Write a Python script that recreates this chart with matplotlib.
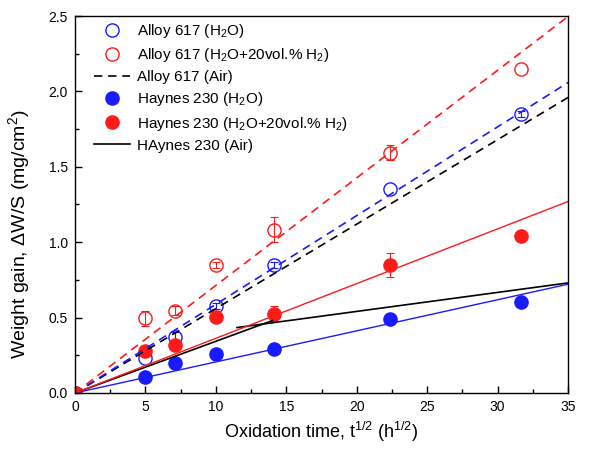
import matplotlib
matplotlib.use('Agg')
import matplotlib.pyplot as plt
from matplotlib.lines import Line2D
import numpy as np

plt.rcParams['font.family'] = ['Liberation Sans', 'DejaVu Sans']
plt.rcParams['mathtext.default'] = 'regular'

# square root of oxidation time (h^1/2): 0, 25, 50, 100, 200, 500, 1000 h
t_sqrt = np.sqrt([0, 25, 50, 100, 200, 500, 1000])

a617_h2o = [0.0, 0.235, 0.374, 0.578, 0.85, 1.35, 1.85]
a617_h2o_err = [0, 0.0, 0.03, 0.02, 0.02, 0.0, 0.02]
a617_h2 = [0.0, 0.497, 0.545, 0.847, 1.084, 1.594, 2.15]
a617_h2_err = [0, 0.05, 0.03, 0.02, 0.08, 0.05, 0.0]
h230_h2o = [0.0, 0.104, 0.197, 0.257, 0.293, 0.49, 0.603]
h230_h2 = [0.0, 0.281, 0.315, 0.503, 0.527, 0.851, 1.04]
h230_h2_err = [0, 0.0, 0.0, 0.0, 0.05, 0.08, 0.0]

# air reference lines
a617_air_x = [0, 35]
a617_air_y = [0, 1.96]
h230_air_x1 = [0, 14.0]
h230_air_y1 = [0, 0.48]
h230_air_x2 = [11.5, 35]
h230_air_y2 = [0.434, 0.73]

BLUE = '#1a1aff'
RED = '#ff1a1a'
DASH = (0, (5, 3.5))


def origin_fit(x, y):
    x = np.asarray(x)
    y = np.asarray(y)
    return np.sum(x * y) / np.sum(x * x)


def points(ax, y, err, color, filled, ms=9.5):
    y = np.asarray(y)
    err = np.asarray(err)
    ax.plot(t_sqrt, y, 'o', ms=ms, mec=color, mfc=color if filled else 'none', mew=1.0)
    m = err > 0
    if m.any():
        ax.errorbar(t_sqrt[m], y[m], yerr=err[m], fmt='none', ecolor=color,
                    capsize=3, elinewidth=0.8, capthick=0.8)


def main():
    fig = plt.figure(figsize=(6.05, 4.55), dpi=100)
    ax = fig.add_axes([0.124, 0.1363, 0.815, 0.8285])
    xf = np.array([0, 35])

    points(ax, a617_h2o, a617_h2o_err, BLUE, False)
    points(ax, a617_h2, a617_h2_err, RED, False)
    points(ax, h230_h2o, np.zeros(len(h230_h2o)), BLUE, True)
    points(ax, h230_h2, h230_h2_err, RED, True)

    ax.plot(a617_air_x, a617_air_y, color='black', ls=DASH, lw=1.2)
    ax.plot(h230_air_x1, h230_air_y1, color='black', lw=1.2)
    ax.plot(h230_air_x2, h230_air_y2, color='black', lw=1.2)

    # linear fits through the origin
    ax.plot(xf, origin_fit(t_sqrt, a617_h2o) * xf, color=BLUE, ls=DASH, lw=1.2)
    ax.plot(xf, origin_fit(t_sqrt, a617_h2) * xf, color=RED, ls=DASH, lw=1.2)
    ax.plot(xf, origin_fit(t_sqrt, h230_h2o) * xf, color=BLUE, lw=1.0)
    ax.plot(xf, origin_fit(t_sqrt, h230_h2) * xf, color=RED, lw=1.0)

    ax.set_xlim(0, 35)
    ax.set_ylim(0, 2.5)
    ax.set_xticks(np.arange(0, 36, 5))
    ax.set_xticks(np.arange(0, 36, 2.5), minor=True)
    ax.set_yticks(np.arange(0, 2.51, 0.5))
    ax.set_yticks(np.arange(0, 2.51, 0.25), minor=True)
    ax.yaxis.set_major_formatter(plt.FormatStrFormatter('%.1f'))
    ax.tick_params(which='both', direction='in', labelsize=10, top=False, right=False)
    ax.tick_params(which='major', length=5, width=1, pad=5)
    ax.tick_params(which='minor', length=3, width=1)
    for s in ax.spines.values():
        s.set_linewidth(1.0)

    ax.set_xlabel('Oxidation time, t$^{1/2}$ (h$^{1/2}$)', fontsize=13)
    ax.set_ylabel('Weight gain, $\\Delta$W/S (mg/cm$^2$)', fontsize=14)
    ax.yaxis.set_label_coords(-0.087, 0.42)

    handles = [
        Line2D([], [], ls='none', marker='o', ms=9.5, mec=BLUE, mfc='none'),
        Line2D([], [], ls='none', marker='o', ms=9.5, mec=RED, mfc='none'),
        Line2D([], [], color='black', ls=DASH, lw=1.2),
        Line2D([], [], ls='none', marker='o', ms=9.5, mec=BLUE, mfc=BLUE),
        Line2D([], [], ls='none', marker='o', ms=9.5, mec=RED, mfc=RED),
        Line2D([], [], color='black', lw=1.2),
    ]
    labels = ['Alloy 617 (H$_2$O)', 'Alloy 617 (H$_2$O+20vol.% H$_2$)', 'Alloy 617 (Air)',
              'Haynes 230 (H$_2$O)', 'Haynes 230 (H$_2$O+20vol.% H$_2$)', 'HAynes 230 (Air)']
    ax.legend(handles, labels, loc='upper left', frameon=False, fontsize=11,
              handlelength=2.3, handletextpad=0.5, labelspacing=0.4,
              borderaxespad=0.0, bbox_to_anchor=(0.027, 1.0))

    plt.savefig('out.png', dpi=100)


if __name__ == '__main__':
    main()
